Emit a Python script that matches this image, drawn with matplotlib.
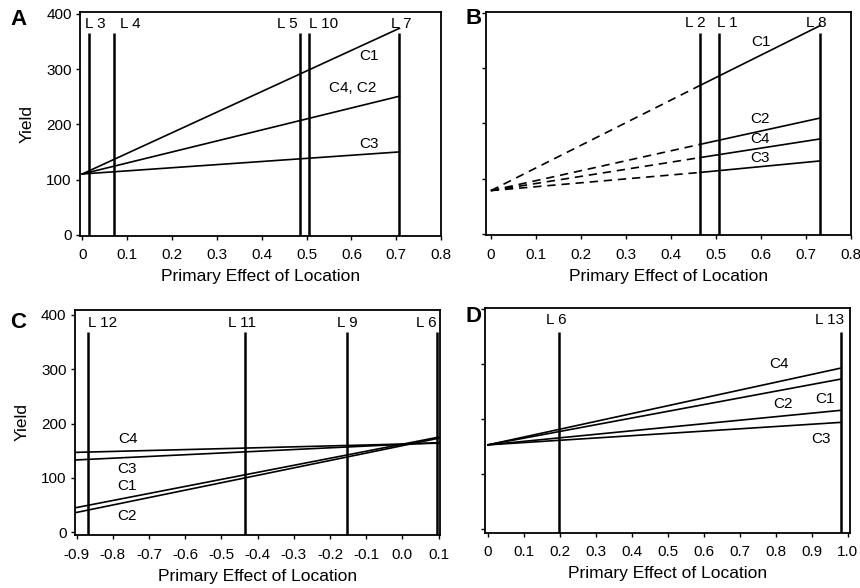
import numpy as np
import matplotlib.pyplot as plt

plt.rcParams['font.family'] = ['Liberation Sans', 'DejaVu Sans']

# A: cultivar lines over locations
a_x = [0.0, 0.707]
a_c1 = [110, 374]
a_c42 = [110, 251]
a_c3 = [110, 150]
a_loc = ['L 3', 'L 4', 'L 5', 'L 10', 'L 7']
a_loc_x = [0.014, 0.071, 0.485, 0.505, 0.707]

# B: dashed part up to L 2, solid part from L 2 to L 8
b_x = [0.0, 0.465, 0.733]
b_c1 = [78, 269, 378]
b_c2 = [78, 162, 210]
b_c4 = [78, 138, 172]
b_c3 = [78, 111, 132]
b_loc = ['L 2', 'L 1', 'L 8']
b_loc_x = [0.465, 0.508, 0.733]

# C
c_x = [-0.905, 0.1]
c_c1 = [45, 175]
c_c2 = [36, 173]
c_c3 = [133, 165]
c_c4 = [147, 164]
c_loc = ['L 12', 'L 11', 'L 9', 'L 6']
c_loc_x = [-0.868, -0.435, -0.153, 0.095]

# D
d_x = [0.0, 0.983]
d_c4 = [153, 293]
d_c1 = [153, 273]
d_c2 = [153, 216]
d_c3 = [153, 194]
d_loc = ['L 6', 'L 13']
d_loc_x = [0.197, 0.983]

fig = plt.figure(figsize=(8.6, 5.88), dpi=100)
axA = fig.add_axes([0.093, 0.599, 0.420, 0.381])
axB = fig.add_axes([0.565, 0.600, 0.425, 0.380])
axC = fig.add_axes([0.087, 0.090, 0.425, 0.383])
axD = fig.add_axes([0.564, 0.094, 0.424, 0.382])

fs = 11     # ticks and in-plot labels
lfs = 12.5  # axis titles
lw = 1.2


def style(ax, xlim, ylim, xticks, xtl, ylab):
    ax.set_xlim(xlim)
    ax.set_ylim(ylim)
    ax.set_xticks(xticks)
    ax.set_xticklabels(xtl, fontsize=fs)
    ax.set_yticks([0, 100, 200, 300, 400])
    if ylab:
        ax.set_yticklabels(['0', '100', '200', '300', '400'], fontsize=fs)
        ax.set_ylabel('Yield', fontsize=lfs, labelpad=8)
    else:
        ax.set_yticklabels([])
    ax.set_xlabel('Primary Effect of Location', fontsize=lfs, labelpad=5)
    ax.tick_params(direction='out', length=3, width=1, pad=3)
    ax.tick_params(axis='x', pad=6)
    for s in ax.spines.values():
        s.set_linewidth(1.3)


def locs(ax, names, xs, top, ybot, lab_x, lab_y):
    ax.vlines(xs, ybot, top, colors='black', linewidth=1.8)
    for n, tx in zip(names, lab_x):
        ax.text(tx, lab_y, n, fontsize=fs, ha='center', va='center')


# panel A
axA.plot(a_x, a_c1, color='black', lw=lw)
axA.plot(a_x, a_c42, color='black', lw=lw)
axA.plot(a_x, a_c3, color='black', lw=lw)
locs(axA, a_loc, a_loc_x, 365, -2, [0.029, 0.107, 0.458, 0.538, 0.711], 381)
axA.text(0.64, 323, 'C1', fontsize=fs, ha='center', va='center')
axA.text(0.602, 265, 'C4, C2', fontsize=fs, ha='center', va='center')
axA.text(0.64, 165, 'C3', fontsize=fs, ha='center', va='center')
style(axA, (-0.005, 0.8), (-2, 404), np.arange(0, 0.81, 0.1),
      ['0', '0.1', '0.2', '0.3', '0.4', '0.5', '0.6', '0.7', '0.8'], True)

# panel B
for ser in [b_c1, b_c2, b_c4, b_c3]:
    axB.plot(b_x[:2], ser[:2], color='black', lw=lw, linestyle=(0, (5, 3.5)))
    axB.plot(b_x[1:], ser[1:], color='black', lw=lw)
locs(axB, b_loc, b_loc_x, 364, -3, [0.454, 0.526, 0.724], 382)
axB.text(0.60, 348, 'C1', fontsize=fs, ha='center', va='center')
axB.text(0.598, 209, 'C2', fontsize=fs, ha='center', va='center')
axB.text(0.598, 172, 'C4', fontsize=fs, ha='center', va='center')
axB.text(0.598, 138, 'C3', fontsize=fs, ha='center', va='center')
style(axB, (-0.011, 0.802), (-3, 403), np.arange(0, 0.81, 0.1),
      ['0', '0.1', '0.2', '0.3', '0.4', '0.5', '0.6', '0.7', '0.8'], False)

# panel C
for ser in [c_c1, c_c2, c_c3, c_c4]:
    axC.plot(c_x, ser, color='black', lw=lw)
locs(axC, c_loc, c_loc_x, 369, -5, [-0.827, -0.442, -0.153, 0.065], 385)
axC.text(-0.757, 171, 'C4', fontsize=fs, ha='center', va='center')
axC.text(-0.76, 116, 'C3', fontsize=fs, ha='center', va='center')
axC.text(-0.76, 86, 'C1', fontsize=fs, ha='center', va='center')
axC.text(-0.76, 30, 'C2', fontsize=fs, ha='center', va='center')
style(axC, (-0.905, 0.105), (-5, 409), np.linspace(-0.9, 0.1, 11),
      ['-0.9', '-0.8', '-0.7', '-0.6', '-0.5', '-0.4', '-0.3', '-0.2', '-0.1', '0.0', '0.1'], True)

# panel D
for ser in [d_c4, d_c1, d_c2, d_c3]:
    axD.plot(d_x, ser, color='black', lw=lw)
locs(axD, d_loc, d_loc_x, 359, -7, [0.19, 0.95], 380)
axD.text(0.81, 300, 'C4', fontsize=fs, ha='center', va='center')
axD.text(0.936, 236, 'C1', fontsize=fs, ha='center', va='center')
axD.text(0.82, 227, 'C2', fontsize=fs, ha='center', va='center')
axD.text(0.927, 164, 'C3', fontsize=fs, ha='center', va='center')
style(axD, (-0.008, 1.006), (-7, 402), np.linspace(0, 1.0, 11),
      ['0', '0.1', '0.2', '0.3', '0.4', '0.5', '0.6', '0.7', '0.8', '0.9', '1.0'], False)

# panel letters
for lab, x, y in [('A', 0.022, 0.966), ('B', 0.551, 0.968), ('C', 0.0215, 0.4515), ('D', 0.551, 0.462)]:
    fig.text(x, y, lab, fontsize=16, fontweight='bold', ha='center', va='center')

fig.savefig('out.png', dpi=100)
